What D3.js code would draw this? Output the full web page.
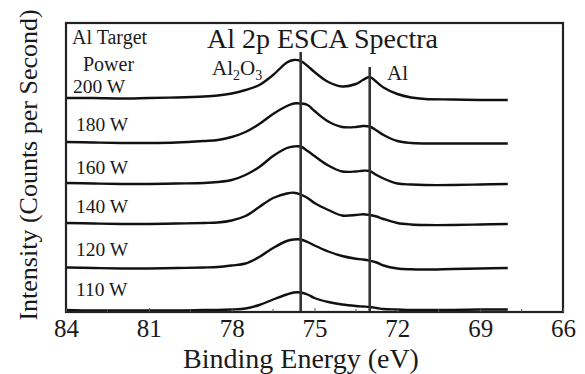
<!DOCTYPE html>
<html>
<head>
<meta charset="utf-8">
<script src="https://cdn.jsdelivr.net/npm/d3@7"></script>
<style>
  html, body { margin: 0; padding: 0; background: #fff; }
  svg { display: block; }
  svg text { font-family: "Liberation Serif", "Times New Roman", serif; fill: #1a1a1a; }
</style>
</head>
<body>
<svg id="chart" width="585" height="374"></svg>
<script>
// Binding energy grid (eV) shared by all spectra
const energies = [84, 83, 82, 81, 80, 79, 78.5, 78, 77.5, 77, 76.5, 76, 75.75, 75.5, 75.25,
                  75, 74.5, 74, 73.5, 73.25, 73, 72.75, 72.5, 72, 71.5, 71, 70, 69, 68];

// Stacked Al 2p intensities (arbitrary units, each trace offset for display)
const spec200 = [214, 214, 213.5, 214, 214.5, 215.5, 216.5, 218.5, 222, 227, 237, 249.5, 252, 251, 246,
                 240, 230, 225.5, 228, 232, 235, 230, 224.5, 218, 214.5, 213, 212.5, 212, 212];
const spec180 = [170, 169.5, 169, 169, 169.5, 171, 172, 175, 180, 188, 198, 206, 208.5, 208.5, 207,
                 201, 190.5, 185, 185, 186, 185.5, 181.5, 177, 171, 169, 168.5, 168.5, 168.5, 168.5];
const spec160 = [129, 128.5, 128, 128, 128.5, 129, 130, 132, 137, 145, 156, 164, 165.5, 165.5, 161,
                 156, 146.5, 140.5, 140.5, 141.3, 141, 137, 133.5, 128.5, 127.5, 127, 127, 127.5, 128];
const spec140 = [89, 88.5, 88, 88, 88.5, 89, 89.5, 91.5, 96, 105, 114, 118.5, 119.3, 117.5, 114,
                 109, 102, 96.5, 97, 97.8, 97, 95.5, 93, 89, 87.5, 87, 87, 87.5, 88];
const spec120 = [44.5, 44, 43.5, 43.5, 44, 44.5, 45, 46.5, 48.5, 55, 64, 71, 72.5, 72.5, 70,
                 66.5, 60.5, 56, 53.3, 52.5, 51.3, 49.5, 46.5, 43.5, 42.7, 42.5, 43, 43.5, 44];
const spec110 = [2, 1.5, 1.5, 1.5, 1.5, 2, 2, 2.5, 3.5, 7, 12.5, 17.5, 19.5, 19.5, 17.5,
                 14, 10, 7.5, 6, 5.5, 5, 4, 3, 2.5, 2, 2, 2, 2.5, 2.5];

const powerLabels = ["200 W", "180 W", "160 W", "140 W", "120 W", "110 W"];
const spectra = [spec200, spec180, spec160, spec140, spec120, spec110];

// Reference peak positions (eV) with their marker tops (intensity units)
const peakEnergies = [75.5, 73.0];
const peakTops = [260, 245];
const peakNames = ["Al2O3", "Al"];

const xTicks = [84, 81, 78, 75, 72, 69, 66];
const xMinorTicks = [82.5, 79.5, 76.5, 73.5, 70.5, 67.5];

const SERIF = '"Liberation Serif", "Times New Roman", serif';

const svg = d3.select("#chart");
const m = { left: 66, right: 563, top: 23, bottom: 312 };

const x = d3.scaleLinear().domain([84, 66]).range([m.left, m.right]);
const y = d3.scaleLinear().domain([0, 289]).range([m.bottom, m.top]);

// Spectra
const line = d3.line()
  .x((d, i) => x(energies[i]))
  .y(d => y(d))
  .curve(d3.curveCatmullRom.alpha(0.5));

svg.append("g")
  .selectAll("path")
  .data(spectra)
  .join("path")
  .attr("d", line)
  .attr("fill", "none")
  .attr("stroke", "#111")
  .attr("stroke-width", 2.4)
  .attr("stroke-linejoin", "round");

// Peak marker lines
svg.append("g")
  .selectAll("line")
  .data(peakEnergies)
  .join("line")
  .attr("x1", d => x(d)).attr("x2", d => x(d))
  .attr("y1", (d, i) => y(peakTops[i]))
  .attr("y2", y(0))
  .attr("stroke", "#333")
  .attr("stroke-width", 2.6);

// Frame
svg.append("rect")
  .attr("x", m.left).attr("y", m.top)
  .attr("width", m.right - m.left).attr("height", m.bottom - m.top)
  .attr("fill", "none")
  .attr("stroke", "#222")
  .attr("stroke-width", 2.2);

// Bottom axis: small inward ticks, large labels below
const xAxis = d3.axisBottom(x).tickValues(xTicks).tickSize(-4).tickPadding(12).tickFormat(d3.format("d"));
const gx = svg.append("g").attr("transform", `translate(0,${m.bottom})`).call(xAxis);
gx.attr("font-family", null).attr("font-size", null);
gx.select(".domain").remove();
gx.selectAll(".tick line").attr("stroke", "#555").attr("stroke-width", 1);
gx.selectAll(".tick text")
  .style("font-family", SERIF)
  .style("font-size", "25px")
  .attr("fill", "#1a1a1a")
  .attr("dy", 0)
  .attr("y", 25);

svg.append("g")
  .selectAll("line")
  .data(xMinorTicks)
  .join("line")
  .attr("x1", d => x(d)).attr("x2", d => x(d))
  .attr("y1", m.bottom).attr("y2", m.bottom - 3)
  .attr("stroke", "#555").attr("stroke-width", 1);

// Axis titles
svg.append("text")
  .attr("x", 301).attr("y", 368)
  .attr("text-anchor", "middle")
  .style("font-family", SERIF)
  .style("font-size", "28px")
  .text("Binding Energy (eV)");

svg.append("text")
  .attr("transform", "translate(37,165) rotate(-90)")
  .attr("text-anchor", "middle")
  .style("font-family", SERIF)
  .style("font-size", "26px")
  .text("Intensity (Counts per Second)");

// Chart title
svg.append("text")
  .attr("x", 207).attr("y", 48)
  .style("font-family", SERIF)
  .style("font-size", "28px")
  .text("Al 2p ESCA Spectra");

// Legend heading
svg.append("text").attr("x", 72).attr("y", 44)
  .style("font-family", SERIF).style("font-size", "20px").text("Al Target");
svg.append("text").attr("x", 83).attr("y", 71)
  .style("font-family", SERIF).style("font-size", "20px").text("Power");

// Power labels beside each trace
const labelBaselines = [93, 131, 174, 213, 256, 296];
svg.append("g")
  .selectAll("text")
  .data(powerLabels)
  .join("text")
  .attr("x", (d, i) => i === 0 ? 73 : 76)
  .attr("y", (d, i) => labelBaselines[i])
  .style("font-family", SERIF)
  .style("font-size", "19.5px")
  .text(d => d);

// Peak names
const oxide = svg.append("text").attr("x", 212).attr("y", 75)
  .style("font-family", SERIF).style("font-size", "21px");
oxide.append("tspan").text("Al");
oxide.append("tspan").style("font-size", "14px").attr("dy", 5).text("2");
oxide.append("tspan").attr("dy", -5).text("O");
oxide.append("tspan").style("font-size", "14px").attr("dy", 5).text("3");

svg.append("text").attr("x", 387).attr("y", 80)
  .style("font-family", SERIF).style("font-size", "21px").text(peakNames[1]);
</script>
</body>
</html>
